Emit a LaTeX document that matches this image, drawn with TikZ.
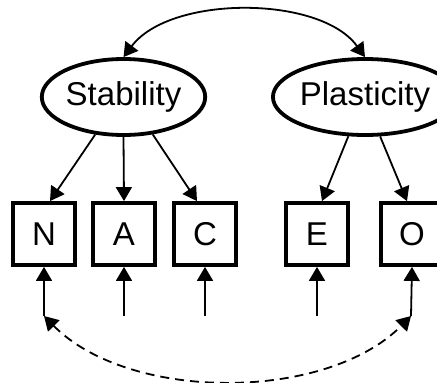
\documentclass[tikz,border=0pt]{standalone}
\usepackage{fontspec}
\setmainfont{Liberation Sans}
\usetikzlibrary{shapes.geometric,arrows.meta}
\begin{document}
\begin{tikzpicture}[x=1pt,y=-1pt,
  latent/.style={ellipse,draw,line width=3.8pt,minimum width=157pt,minimum height=76pt,inner sep=0pt,font=\fontsize{33}{38}\selectfont},
  obs/.style={rectangle,draw,line width=3.8pt,minimum size=62pt,inner sep=0pt,font=\fontsize{33}{38}\selectfont},
  arr/.style={line width=1.8pt,-{Triangle[length=14pt,width=16pt]}},
  both/.style={line width=1.8pt,{Triangle[length=14pt,width=16pt]}-{Triangle[length=14pt,width=16pt]}},
  dashedboth/.style={both,dash pattern=on 9pt off 6pt}]
\useasboundingbox (0,0) rectangle (437,383);
\node[latent] (S) at (123.5,97) {Stability};
\node[latent] (P) at (365,97) {Plasticity};
\node[obs] (N) at (44,234) {N};
\node[obs] (A) at (124,234) {A};
\node[obs] (C) at (205,234) {C};
\node[obs] (E) at (317,234) {E};
\node[obs] (O) at (412,234) {O};
\coordinate (nb) at (44,316);
\coordinate (ab) at (124,316);
\coordinate (cb) at (205,316);
\coordinate (eb) at (317,316);
\coordinate (ob) at (411,316);
\draw[arr] (S.-127) -- ([xshift=6pt]N.north);
\draw[arr] (S.-90) -- (A.north);
\draw[arr] (S.-52) -- ([xshift=-8pt]C.north);
\draw[arr] (P.-113) -- ([xshift=5pt]E.north);
\draw[arr] (P.-69) -- ([xshift=-5pt]O.north);
\draw[arr] (nb) -- (N.south);
\draw[arr] (ab) -- (A.south);
\draw[arr] (cb) -- (C.south);
\draw[arr] (eb) -- (E.south);
\draw[arr] (ob) -- (O.south);
\draw[both] (S.north) .. controls (170,-5) and (320,-5) .. (P.north);
\draw[dashedboth] (nb) .. controls (129,402) and (326,402) .. (ob);
\end{tikzpicture}
\end{document}
